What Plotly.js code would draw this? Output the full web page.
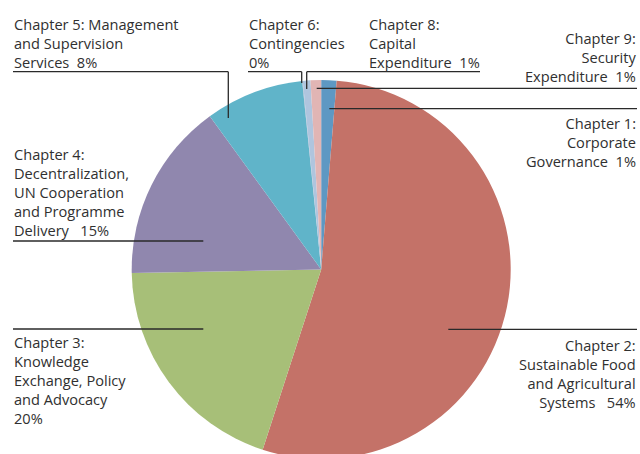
<!DOCTYPE html>
<html>
<head>
<meta charset="utf-8">
<script src="https://cdn.plot.ly/plotly-3.0.1.min.js"></script>
<style>
  html, body { margin: 0; padding: 0; background: #fff; overflow: hidden; width: 640px; height: 454px; }
  #chart { width: 640px; height: 460px; }
</style>
</head>
<body>
<div id="chart"></div>
<script>
// ---- data ----
const categories = [
  "Chapter 1: Corporate Governance",
  "Chapter 2: Sustainable Food and Agricultural Systems",
  "Chapter 3: Knowledge Exchange, Policy and Advocacy",
  "Chapter 4: Decentralization, UN Cooperation and Programme Delivery",
  "Chapter 5: Management and Supervision Services",
  "Chapter 6: Contingencies",
  "Chapter 8: Capital Expenditure",
  "Chapter 9: Security Expenditure"
];
const shares = [1.3, 53.7, 19.7, 15.3, 8.4, 0.05, 0.65, 0.9];
const sliceColors = ["#5e98c3", "#c47268", "#a7bf78", "#9087ae", "#60b4c9", "#9fb6cf", "#afc5de", "#e1b5b4"];
const labelLines = [
  ["Chapter 1:", "Corporate", "Governance\u00a0\u00a01%"],
  ["Chapter 2:", "Sustainable Food", "and Agricultural", "Systems\u00a0\u00a0\u00a054%"],
  ["Chapter 3:", "Knowledge", "Exchange, Policy", "and Advocacy", "20%"],
  ["Chapter 4:", "Decentralization,", "UN Cooperation", "and Programme", "Delivery\u00a0\u00a0\u00a015%"],
  ["Chapter 5: Management", "and Supervision", "Services\u00a0\u00a08%"],
  ["Chapter 6:", "Contingencies", "0%"],
  ["Chapter 8:", "Capital", "Expenditure\u00a0\u00a01%"],
  ["Chapter 9:", "Security", "Expenditure\u00a0\u00a01%"]
];

// ---- layout helpers (pixel -> paper) ----
const W = 640, H = 460;
const px = x => x / W;
const py = y => 1 - y / H;
const cx = 321.2, cy = 269.5, R = 189.5;
const FS = 14.6;
const capOffset = 5.1;

// label anchor positions: [x, capTop, side]
const labelPos = [
  [637, 116.7, "right"],
  [637, 339.3, "right"],
  [13, 336, "left"],
  [13, 148.3, "left"],
  [13, 18.3, "left"],
  [248, 18.3, "left"],
  [367.5, 18.3, "left"],
  [637, 31.7, "right"]
];
// leader polylines in pixels
const leaders = [
  [[329.3, 108.7], [637, 108.7]],
  [[448.3, 329.3], [637, 329.3]],
  [[13, 329], [203.3, 329]],
  [[13, 241], [203.3, 241]],
  [[13, 71.7], [228.3, 71.7], [228.3, 118]],
  [[248, 71.7], [301.7, 71.7], [301.7, 83]],
  [[480, 71.7], [306.7, 71.7], [306.7, 89]],
  [[316.7, 88.3], [637, 88.3]]
];

const annotations = labelLines.map((lines, i) => {
  const [x, capTop, side] = labelPos[i];
  return {
    xref: "paper", yref: "paper",
    x: px(x), y: py(capTop - capOffset),
    xanchor: side, yanchor: "top", align: side,
    text: lines.join("<br>"),
    showarrow: false, borderpad: 0,
    font: { family: "Open Sans, sans-serif", size: FS, color: "#303030" }
  };
});

const shapes = [];
leaders.forEach(pts => {
  for (let k = 0; k < pts.length - 1; k++) {
    shapes.push({
      type: "line", xref: "paper", yref: "paper",
      x0: px(pts[k][0]), y0: py(pts[k][1]),
      x1: px(pts[k + 1][0]), y1: py(pts[k + 1][1]),
      line: { color: "#2a2a2a", width: 1.3 }
    });
  }
});

const trace = {
  type: "pie",
  labels: categories,
  values: shares,
  sort: false,
  direction: "clockwise",
  rotation: 0,
  marker: { colors: sliceColors, line: { width: 0 } },
  textinfo: "none",
  hoverinfo: "label+percent",
  showlegend: false,
  domain: { x: [px(cx - R), px(cx + R)], y: [py(cy + R), py(cy - R)] }
};

const layout = {
  width: W, height: H,
  margin: { l: 0, r: 0, t: 0, b: 0 },
  paper_bgcolor: "#ffffff",
  plot_bgcolor: "#ffffff",
  showlegend: false,
  annotations: annotations,
  shapes: shapes
};

Plotly.newPlot("chart", [trace], layout, { displayModeBar: false, staticPlot: true });
</script>
</body>
</html>
